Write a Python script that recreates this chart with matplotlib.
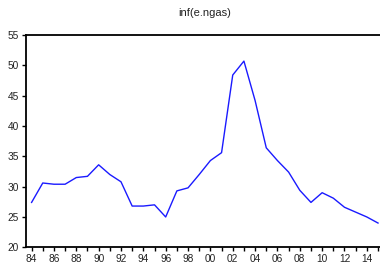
import matplotlib
matplotlib.use("Agg")
import matplotlib.pyplot as plt
from matplotlib.ticker import MultipleLocator

years = list(range(1984, 2016))
values = [27.4, 30.6, 30.4, 30.4, 31.5, 31.7, 33.6, 32.0, 30.8, 26.8,
          26.8, 27.0, 25.0, 29.3, 29.8, 32.0, 34.3, 35.6, 48.4, 50.7,
          44.2, 36.4, 34.3, 32.4, 29.4, 27.4, 29.0, 28.1, 26.6, 25.8,
          25.0, 24.0]
xtick_years = list(range(1984, 2016, 2))
xtick_labels = [f"{y % 100:02d}" for y in xtick_years]
yticks = [20, 25, 30, 35, 40, 45, 50, 55]
title = "inf(e.ngas)"

plt.rcParams['font.family'] = ['Liberation Sans', 'DejaVu Sans']

W, H = 380, 264
fig = plt.figure(figsize=(W / 100, H / 100), dpi=100)
left, right, bottom, top = 26, 383.6, 247.3, 35
ax = fig.add_axes([left / W, (H - bottom) / H, (right - left) / W, (bottom - top) / H])

ax.plot(years, values, color='#1a1aff', lw=1.0)
ax.set_xlim(1983.5, 2015.5)
ax.set_ylim(20, 55)
ax.set_yticks(yticks)
ax.set_xticks(xtick_years)
ax.set_xticklabels(xtick_labels)
ax.xaxis.set_minor_locator(MultipleLocator(1))
ax.tick_params(axis='both', labelsize=7.3, colors='black', labelcolor='#222222',
               width=1.0, length=3, pad=2)
ax.tick_params(axis='x', which='minor', length=3, width=1.0)
for s in ['left', 'bottom', 'top', 'right']:
    ax.spines[s].set_linewidth(1.3)
ax.set_title(title, fontsize=8, pad=14, color='#222222')

fig.savefig("out.png", dpi=100)
